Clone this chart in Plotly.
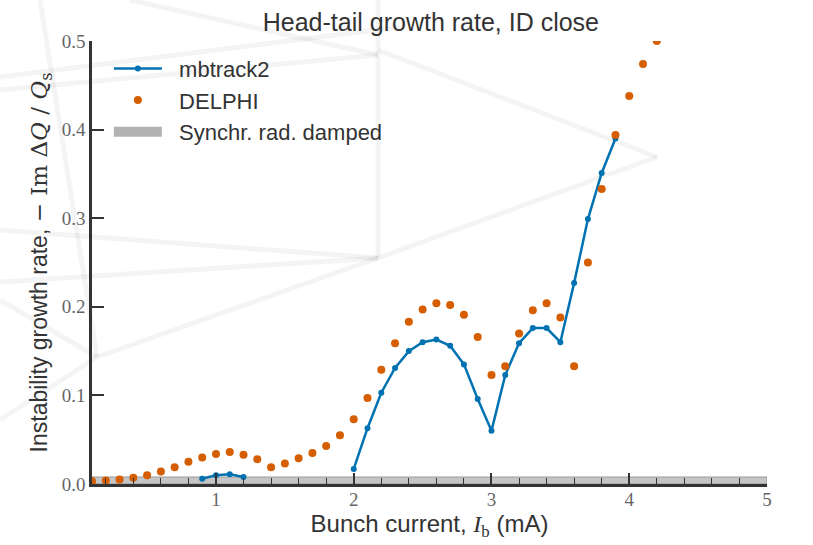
import plotly.graph_objects as go

# DELPHI head-tail growth rates (every 0.1 mA)
delphi_current = [0.1, 0.2, 0.3, 0.4, 0.5, 0.6, 0.7, 0.8, 0.9, 1.0,
                  1.1, 1.2, 1.3, 1.4, 1.5, 1.6, 1.7, 1.8, 1.9, 2.0,
                  2.1, 2.2, 2.3, 2.4, 2.5, 2.6, 2.7, 2.8, 2.9, 3.0,
                  3.1, 3.2, 3.3, 3.4, 3.5, 3.6, 3.7, 3.8, 3.9, 4.0,
                  4.1, 4.2]
delphi_rate = [0.003, 0.004, 0.005, 0.007, 0.010, 0.014, 0.019, 0.025, 0.030, 0.034,
               0.036, 0.033, 0.028, 0.019, 0.023, 0.029, 0.035, 0.043, 0.055, 0.073,
               0.097, 0.129, 0.159, 0.183, 0.197, 0.204, 0.202, 0.191, 0.166, 0.123,
               0.133, 0.170, 0.196, 0.204, 0.188, 0.133, 0.250, 0.333, 0.394, 0.438,
               0.474, 0.500]

# mbtrack2 tracking results (two unstable regions)
mbt_current = [0.9, 1.0, 1.1, 1.2, None,
               2.0, 2.1, 2.2, 2.3, 2.4, 2.5, 2.6, 2.7, 2.8, 2.9,
               3.0, 3.1, 3.2, 3.3, 3.4, 3.5, 3.6, 3.7, 3.8, 3.9]
mbt_rate = [0.006, 0.010, 0.011, 0.008, None,
            0.017, 0.063, 0.103, 0.131, 0.150, 0.160, 0.163, 0.156, 0.135, 0.096,
            0.060, 0.123, 0.159, 0.176, 0.176, 0.160, 0.227, 0.299, 0.351, 0.390]

# Synchrotron-radiation damping level
damping_rate = 0.008
x_range = [0.1, 5.0]
y_range = [0.0, 0.5]

BLUE = "#0072B2"
ORANGE = "#D55E00"
BAND = "rgba(150,150,150,0.55)"
SANS = "Liberation Sans, Arial, sans-serif"
SERIF = "Liberation Serif, serif"
PAD = "\u00a0\u00a0"

fig = go.Figure()

# damping band drawn across the full current range
fig.add_trace(go.Scatter(
    x=[x_range[0], x_range[1], x_range[1], x_range[0], x_range[0]],
    y=[0, 0, damping_rate, damping_rate, 0],
    fill="toself", fillcolor=BAND,
    line=dict(color="rgba(110,110,110,0.6)", width=1),
    mode="lines", showlegend=False, hoverinfo="skip",
))

fig.add_trace(go.Scatter(
    x=mbt_current, y=mbt_rate, mode="lines+markers", name=PAD + "mbtrack2",
    line=dict(color=BLUE, width=2.5), marker=dict(color=BLUE, size=6),
    connectgaps=False, legendrank=1,
))

fig.add_trace(go.Scatter(
    x=delphi_current, y=delphi_rate, mode="markers", name=PAD + "DELPHI",
    marker=dict(color=ORANGE, size=8), legendrank=2,
))

# legend entry for the damping band (thick line gives a box-shaped key)
fig.add_trace(go.Scatter(
    x=[None], y=[None], mode="lines", name=PAD + "Synchr. rad. damped",
    line=dict(color="rgba(160,160,160,0.8)", width=17), legendrank=3,
))

# faint background strokes
bg_lines = [
    (378, 0, 378, 258), (657, 157, 378, 50), (657, 157, 378, 258),
    (378, 258, 97, 357), (378, 258, 0, 230), (378, 258, 0, 282),
    (0, 77, 400, 27), (0, 90, 378, 55), (130, 0, 378, 55),
    (97, 357, 0, 300), (97, 357, 0, 420), (40, 0, 97, 357),
]
W, H = 813, 545
L, R, T, B = 92, 46, 41, 61
pw, ph = W - L - R, H - T - B
shapes = []
for x0, y0, x1, y1 in bg_lines:
    shapes.append(dict(
        type="line", xref="paper", yref="paper", layer="below",
        x0=(x0 - L) / pw, x1=(x1 - L) / pw,
        y0=(H - B - y0) / ph, y1=(H - B - y1) / ph,
        line=dict(color="rgba(0,0,0,0.045)", width=5),
    ))

fig.update_layout(
    width=W, height=H,
    margin=dict(l=L, r=R, t=T, b=B),
    paper_bgcolor="white", plot_bgcolor="rgba(0,0,0,0)",
    shapes=shapes,
    title=dict(text="Head-tail growth rate, ID close", x=0.53, xanchor="center",
               y=0.96, yanchor="middle",
               font=dict(family=SANS, size=25, color="#333")),
    legend=dict(x=0.025, y=0.985, xanchor="left", yanchor="top",
                bgcolor="rgba(0,0,0,0)", font=dict(family=SANS, size=22, color="#333"),
                tracegroupgap=4, itemwidth=48),
    showlegend=True,
)

fig.update_xaxes(
    range=x_range, showgrid=False, zeroline=False,
    showline=True, linecolor="#333", linewidth=2.5,
    ticks="inside", ticklen=11, tickwidth=1.5, tickcolor="#333",
    tickvals=[1, 2, 3, 4, 5], ticktext=["1", "2", "3", "4", "5"],
    minor=dict(ticks="inside", ticklen=6, tickwidth=1.2, tickcolor="#333", dtick=0.2, tick0=0),
    tickfont=dict(family=SERIF, size=19, color="#666"),
    ticklabelstandoff=-4,
    title=dict(text="Bunch current, <span style='font-family:Liberation Serif'><i>I</i><sub>b</sub></span> (mA)",
               standoff=6, font=dict(family=SANS, size=24, color="#333")),
)
fig.update_yaxes(
    range=y_range, showgrid=False, zeroline=False,
    showline=True, linecolor="#333", linewidth=2.5,
    ticks="inside", ticklen=12, tickwidth=1.5, tickcolor="#333",
    tickvals=[0, 0.1, 0.2, 0.3, 0.4, 0.5], tickformat=".1f",
    tickfont=dict(family=SERIF, size=19, color="#666"),
    title=dict(text="Instability growth rate, <span style='font-family:DejaVu Serif'>− Im Δ<i>Q</i> / <i>Q</i><sub>s</sub></span>",
               standoff=8, font=dict(family=SANS, size=23, color="#333")),
)

fig.write_html("out.html")
